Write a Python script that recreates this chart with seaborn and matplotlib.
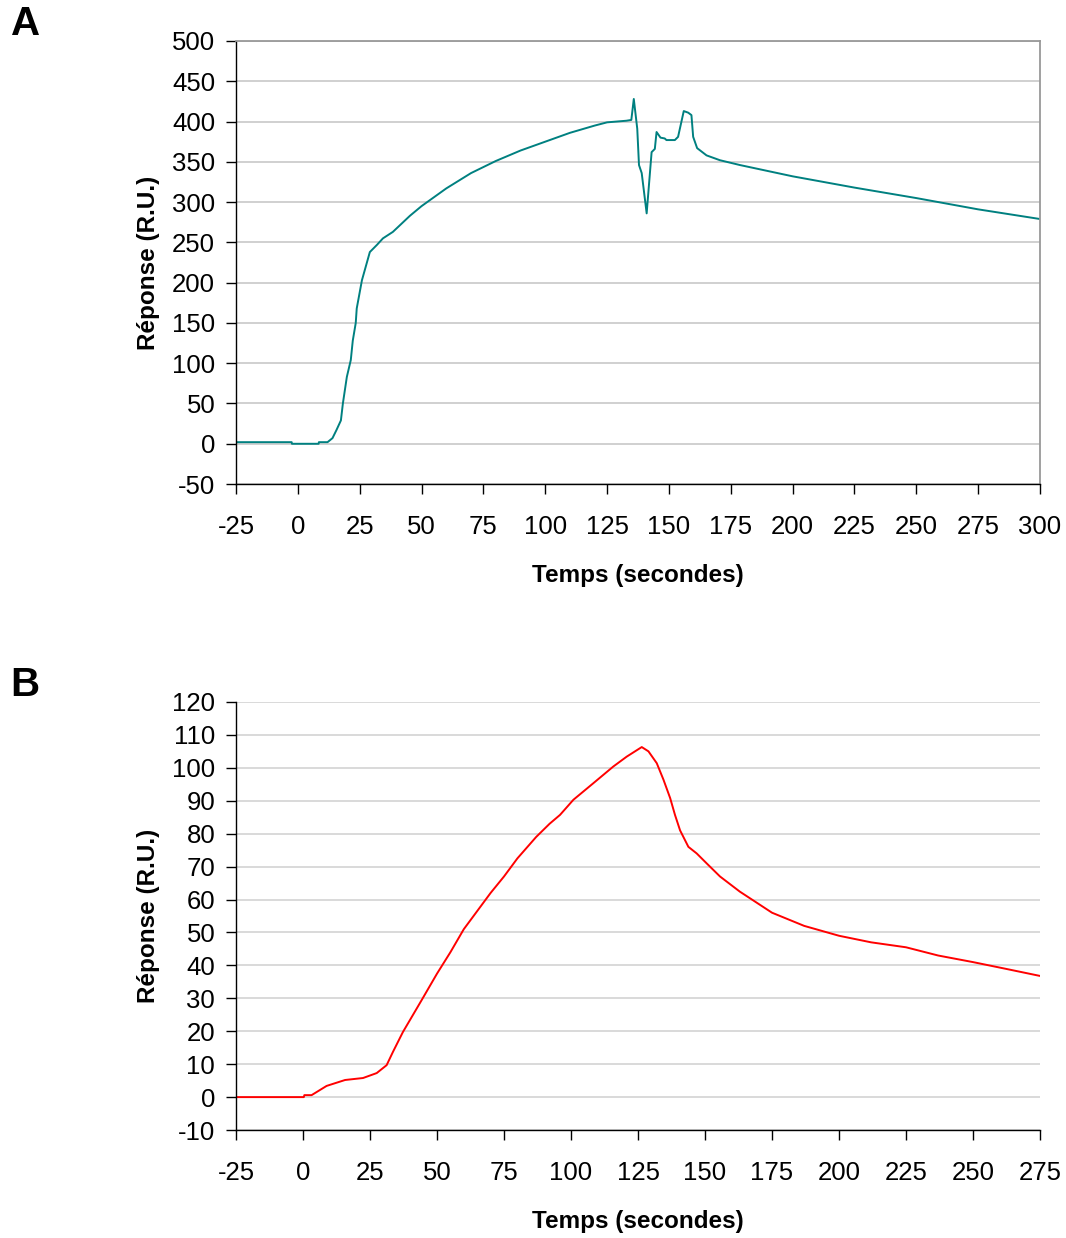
import numpy as np
import pandas as pd
import seaborn as sns
import matplotlib.pyplot as plt

# panel A : sensorgram (teal)
time_a = [-25, -2.5, -2.4, 8.4, 8.5, 12, 14, 15.6, 17.4, 18.2, 19.8, 21.4, 22.2,
          23.4, 23.8, 25.9, 27, 29.1, 32, 34.4, 38.4, 45.3, 50, 60, 70, 80, 90,
          100, 110, 120, 125, 132.8, 134.8, 135.8, 137.2, 137.9, 139, 141, 143,
          144.3, 145, 146.6, 148.3, 149, 152.4, 153.7, 156, 157.8, 159.1, 159.8,
          161.4, 165.2, 170.6, 178.7, 200, 225, 250, 275, 300]
resp_a = [2, 2, 0, 0, 2, 2, 7, 17, 29, 50, 83, 104, 128,
          150, 168, 203, 215, 238, 247, 255, 263, 283, 295, 317, 336, 351, 364,
          375, 386, 395, 399, 401, 402, 428, 391, 346, 336, 286, 362,
          366, 387, 380, 379, 377, 377, 381, 413, 411, 408, 381,
          367, 358, 352, 346, 332, 318, 305, 291, 279]

# panel B : sensorgram (red)
time_b = [-25, 0.3, 0.5, 3.2, 8.8, 15.7, 22.4, 27.5, 31.2, 33.6, 37.3, 39.9, 44.3,
          50, 55, 60, 65, 70, 75, 80, 87, 92, 95.9, 100.9, 108.3, 115.8, 120.8,
          126.4, 128.9, 132, 134.5, 137, 138.8, 140.7, 143.8, 146.9, 150.6,
          155.6, 163, 175, 187, 200, 212, 225, 237, 250, 262, 275]
resp_b = [0, 0, 0.6, 0.6, 3.4, 5.2, 5.8, 7.3, 9.7, 13.8, 19.8, 23.4, 29.5,
          37.5, 44, 51, 56.5, 62, 67, 72.5, 79, 83, 85.7, 90.3, 95.3, 100.4, 103.4,
          106.3, 105, 101.4, 96.4, 90.8, 85.7, 81, 76, 74, 71,
          67, 62.4, 56, 52, 49, 47, 45.5, 43, 41, 39, 36.8]

sns.set_theme(style="white")
plt.rcParams["font.family"] = ["Liberation Sans", "DejaVu Sans"]
plt.rcParams["axes.unicode_minus"] = False
plt.rcParams["text.color"] = "black"
plt.rcParams["axes.labelcolor"] = "black"

fig = plt.figure(figsize=(10.66, 12.38), dpi=100)
ax_a = fig.add_axes([0.2214, 0.6090, 0.7542, 0.3579])
ax_b = fig.add_axes([0.2214, 0.0872, 0.7542, 0.3458])


def style_axis(ax, xlim, ylim, xstep, ystep, grid_color):
    ax.set_xlim(*xlim)
    ax.set_ylim(*ylim)
    ax.set_xticks(np.arange(xlim[0], xlim[1] + 1, xstep))
    ax.set_yticks(np.arange(ylim[0], ylim[1] + 1, ystep))
    ax.yaxis.grid(True, color=grid_color, linewidth=1.1)
    ax.xaxis.grid(False)
    ax.set_axisbelow(True)
    for side in ["left", "bottom"]:
        ax.spines[side].set_color("black")
        ax.spines[side].set_linewidth(1.0)
    ax.tick_params(axis="both", which="major", direction="out", length=7,
                   width=1.0, color="black", labelsize=18.5, labelcolor="black",
                   left=True, bottom=True)
    ax.tick_params(axis="x", pad=15)
    ax.tick_params(axis="y", pad=8)
    ax.set_xlabel("Temps (secondes)", fontsize=17.5, fontweight="bold",
                  labelpad=18, color="black")
    ax.set_ylabel("Réponse (R.U.)", fontsize=17.5, fontweight="bold",
                  labelpad=9, color="black")


df_a = pd.DataFrame({"t": time_a, "r": resp_a})
sns.lineplot(data=df_a, x="t", y="r", ax=ax_a, color="#008080", linewidth=1.4,
             estimator=None, sort=False)
style_axis(ax_a, (-25, 300), (-50, 500), 25, 50, "#c4c4c4")
for side in ["top", "right"]:
    ax_a.spines[side].set_visible(True)
    ax_a.spines[side].set_color("#999999")
    ax_a.spines[side].set_linewidth(1.3)

df_b = pd.DataFrame({"t": time_b, "r": resp_b})
sns.lineplot(data=df_b, x="t", y="r", ax=ax_b, color="#ff0000", linewidth=1.4,
             estimator=None, sort=False)
style_axis(ax_b, (-25, 275), (-10, 120), 25, 10, "#d0d0d0")
for side in ["top", "right"]:
    ax_b.spines[side].set_visible(False)

fig.text(0.010, 0.981, "A", fontsize=29, fontweight="bold", va="center",
         ha="left", color="black")
fig.text(0.010, 0.447, "B", fontsize=29, fontweight="bold", va="center",
         ha="left", color="black")

fig.savefig("out.png", dpi=100)
